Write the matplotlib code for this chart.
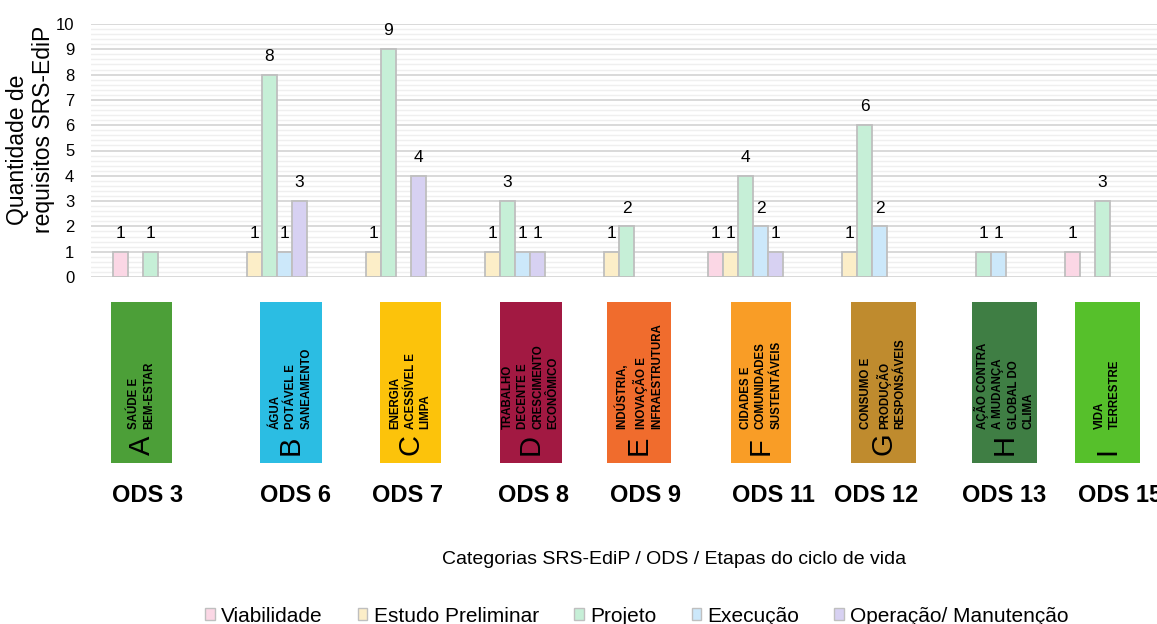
import matplotlib
matplotlib.use("Agg")
import matplotlib.pyplot as plt
from matplotlib.patches import Rectangle, Patch
import numpy as np

plt.rcParams['font.family'] = ['Liberation Sans', 'DejaVu Sans']

# ---- data -------------------------------------------------------------
categories = ["A", "B", "C", "D", "E", "F", "G", "H", "I"]
ods_labels = ["ODS 3", "ODS 6", "ODS 7", "ODS 8", "ODS 9",
              "ODS 11", "ODS 12", "ODS 13", "ODS 15"]
ods_titles = [
    "SAÚDE E\nBEM-ESTAR",
    "ÁGUA\nPOTÁVEL E\nSANEAMENTO",
    "ENERGIA\nACESSÍVEL E\nLIMPA",
    "TRABALHO\nDECENTE E\nCRESCIMENTO\nECONÔMICO",
    "INDÚSTRIA,\nINOVAÇÃO E\nINFRAESTRUTURA",
    "CIDADES E\nCOMUNIDADES\nSUSTENTÁVEIS",
    "CONSUMO E\nPRODUÇÃO\nRESPONSÁVEIS",
    "AÇÃO CONTRA\nA MUDANÇA\nGLOBAL DO\nCLIMA",
    "VIDA\nTERRESTRE",
]
series_names = ["Viabilidade", "Estudo Preliminar", "Projeto",
                "Execução", "Operação/ Manutenção"]
viabilidade = [1, 0, 0, 0, 0, 1, 0, 0, 1]
estudo_preliminar = [0, 1, 1, 1, 1, 1, 1, 0, 0]
projeto = [1, 8, 9, 3, 2, 4, 6, 1, 3]
execucao = [0, 1, 0, 1, 0, 2, 2, 1, 0]
operacao = [0, 3, 4, 1, 0, 1, 0, 0, 0]

# ---- styles -----------------------------------------------------------
series_colors = ["#FBD7E5", "#FCEEC8", "#C6EFD7", "#CCE8FA", "#D7D1F2"]
edge_color = "#BFBFBF"
ods_colors = ["#4C9F38", "#2BBDE3", "#FCC30B", "#A21942", "#F06C2D",
              "#F99D26", "#BF8B2E", "#3F7E44", "#56C02B"]

W, H = 1157, 624
fig = plt.figure(figsize=(W / 100, H / 100), dpi=100)


def fx(px):
    return px / W


def fy(py):
    return 1 - py / H


# plot area (extends past the right edge of the canvas)
ax_left, ax_right, ax_top, ax_bottom = 91, 1162, 24, 277
ax = fig.add_axes([fx(ax_left), fy(ax_bottom),
                   fx(ax_right - ax_left), (ax_bottom - ax_top) / H])

series = [viabilidade, estudo_preliminar, projeto, execucao, operacao]
x = np.arange(len(categories))
bw = 0.126
for i, (vals, col) in enumerate(zip(series, series_colors)):
    vals = np.array(vals, dtype=float)
    pos = x + (i - 2) * bw
    mask = vals > 0
    ax.bar(pos[mask], vals[mask], width=bw, color=col,
           edgecolor=edge_color, linewidth=1.3, zorder=3)
    for xp, v in zip(pos[mask], vals[mask]):
        ax.annotate(f"{int(v)}", (xp, v), xytext=(0, 10),
                    textcoords="offset points", ha="center", va="baseline",
                    fontsize=12.5, color="#000000")

ax.set_xlim(-0.5, len(categories) - 0.5)
ax.set_ylim(0, 10)
ax.set_yticks(np.arange(0, 11, 1))
ax.set_yticks(np.arange(0, 10.01, 0.2), minor=True)
ax.yaxis.grid(True, which="major", color="#D9D9D9", linewidth=1.4, zorder=0)
ax.yaxis.grid(True, which="minor", color="#EFEFEF", linewidth=1.0, zorder=0)
ax.set_axisbelow(True)
ax.set_xticks([])
ax.tick_params(axis="y", which="both", length=0, pad=12, labelsize=12)
for s in ax.spines.values():
    s.set_visible(False)

# y axis title
fig.text(fx(18), fy(150), "Quantidade de", rotation=90, ha="center",
         va="center", fontsize=16.5)
fig.text(fx(44), fy(129), "requisitos SRS-EdiP", rotation=90, ha="center",
         va="center", fontsize=16.5)

# ODS tiles beneath the plot
box_left = [111, 260, 380, 500, 607, 731, 851, 972, 1075]
box_right = [172, 322, 441, 562, 671, 791, 916, 1037, 1140]
box_top, box_bot = 302, 463
for cat, title, col, l, r in zip(categories, ods_titles, ods_colors,
                                 box_left, box_right):
    fig.add_artist(Rectangle((fx(l), fy(box_bot)), fx(r - l),
                             (box_bot - box_top) / H,
                             transform=fig.transFigure, facecolor=col,
                             edgecolor="none"))
    cx = (l + r) / 2
    fig.text(fx(cx), fy(455), cat, rotation=90, ha="center", va="bottom",
             fontsize=21, color="black")
    fig.text(fx(cx), fy(429), title, rotation=90, ha="center", va="bottom",
             multialignment="left", fontsize=8.3, fontweight="bold",
             linespacing=1.35, color="black")

# ODS numbers
ods_cx = [148, 295, 408, 533, 645, 773, 876, 1004, 1120]
for lab, cx in zip(ods_labels, ods_cx):
    fig.text(fx(cx), fy(502), lab, ha="center", va="baseline",
             fontsize=17, fontweight="bold")

# x axis title
fig.text(fx(674), fy(564), "Categorias SRS-EdiP / ODS / Etapas do ciclo de vida",
         ha="center", va="baseline", fontsize=14)

# legend
handles = [Patch(facecolor=c, edgecolor=edge_color, linewidth=1.0)
           for c in series_colors]
fig.legend(handles, series_names, loc="center",
           bbox_to_anchor=(fx(637), fy(616)), ncol=5, frameon=False,
           fontsize=15, handlelength=0.45, handleheight=0.45,
           handletextpad=0.3, columnspacing=1.7, borderpad=0)

fig.savefig("out.png", dpi=100)
